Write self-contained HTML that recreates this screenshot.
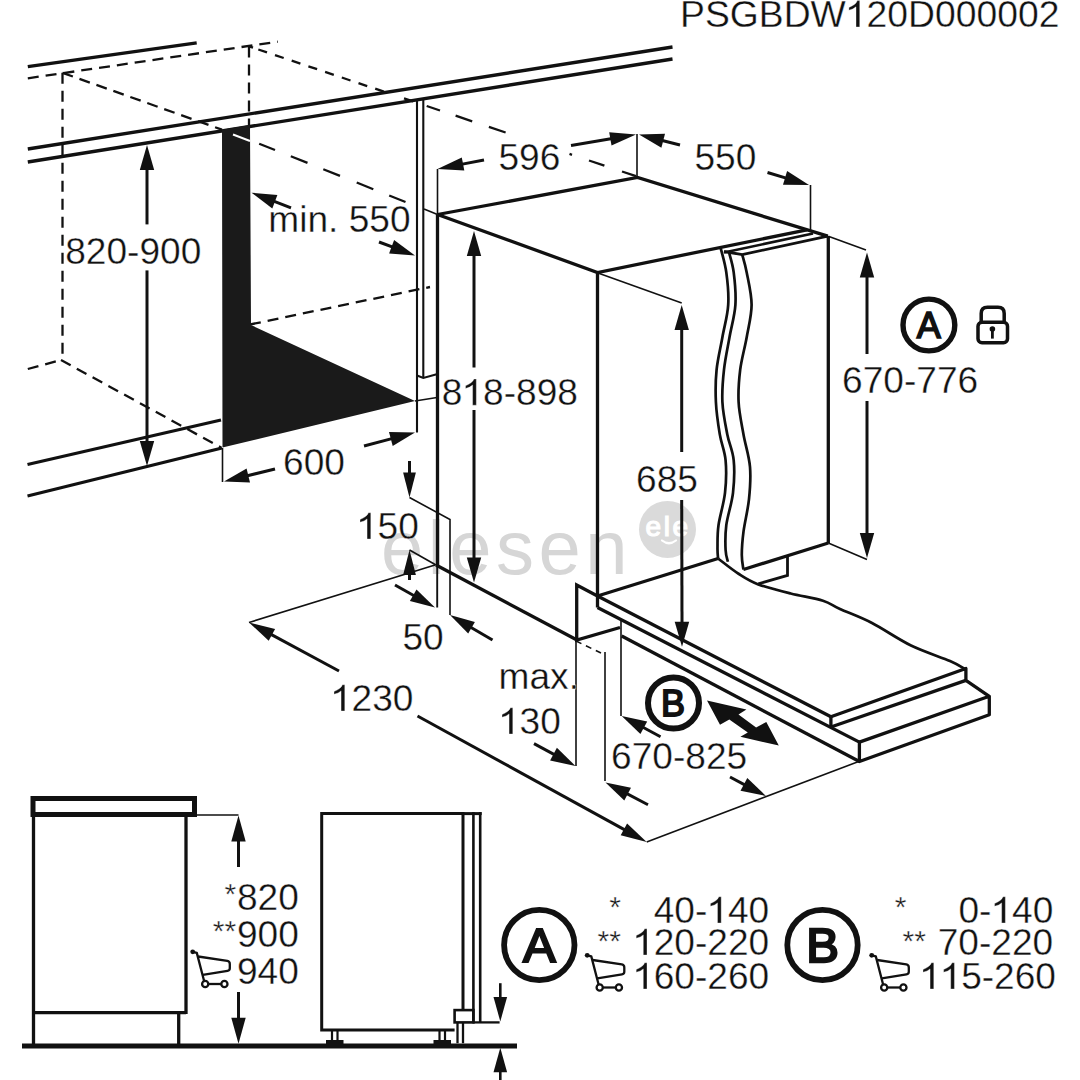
<!DOCTYPE html>
<html><head><meta charset="utf-8"><style>
html,body{margin:0;padding:0;background:#fff;}
svg{display:block;}
text{font-family:"Liberation Sans", sans-serif;}
</style></head><body>
<svg width="1080" height="1080" viewBox="0 0 1080 1080">
<rect width="1080" height="1080" fill="#fff"/>
<g><text x="381" y="574" font-size="76" fill="#d6d6d6" letter-spacing="4.5">elesen</text><circle cx="667.5" cy="529.4" r="28.5" fill="#dadada" stroke="none"/><text x="645.5" y="536" font-size="28" fill="#fff" stroke="#fff" stroke-width="1.2" letter-spacing="2.6">ele</text><path d="M662,540.5 Q669,546 676,540.5" stroke="#fff" stroke-width="2.2" fill="none" stroke-linecap="round"/></g>
<g stroke="#111" stroke-linecap="butt" fill="none">
<path d="M765 0V1450H635Q595 1330 470 1235Q350 1150 170 1075V920Q420 975 560 1110V0Z" transform="translate(845.81,27.00) scale(0.01821,-0.01821)" fill="#111" stroke="#fff" stroke-width="19.2" vector-effect="none"/>
<text x="680.0" y="27.0" font-size="37.3" font-weight="normal" fill="#111"  stroke="#fff" stroke-width="0.35">PSGBDW 20D000002</text>
<line x1="27.8" y1="66.7" x2="196.7" y2="42.8" stroke-width="3.3" />
<line x1="27.8" y1="78.3" x2="277.8" y2="41.7" stroke-width="2.3" stroke-dasharray="11 7"/>
<line x1="62.5" y1="72.8" x2="62.5" y2="360.0" stroke-width="2.3" stroke-dasharray="11 7"/>
<line x1="62.5" y1="72.8" x2="222.0" y2="129.7" stroke-width="2.3" stroke-dasharray="11 7"/>
<line x1="249.0" y1="46.4" x2="249.0" y2="125.6" stroke-width="2.3" stroke-dasharray="11 7"/>
<line x1="249.0" y1="46.4" x2="253.0" y2="47.7" stroke-width="2.3" />
<line x1="258.3" y1="49.5" x2="267.0" y2="52.4" stroke-width="2.3" />
<line x1="275.0" y1="55.1" x2="283.7" y2="58.0" stroke-width="2.3" />
<line x1="291.7" y1="60.7" x2="300.4" y2="63.6" stroke-width="2.3" />
<line x1="308.4" y1="66.3" x2="317.1" y2="69.2" stroke-width="2.3" />
<line x1="325.1" y1="71.9" x2="333.8" y2="74.9" stroke-width="2.3" />
<line x1="341.8" y1="77.5" x2="350.5" y2="80.5" stroke-width="2.3" />
<line x1="358.5" y1="83.1" x2="367.2" y2="86.1" stroke-width="2.3" />
<line x1="375.2" y1="88.7" x2="383.9" y2="91.7" stroke-width="2.3" />
<line x1="404.0" y1="98.4" x2="413.0" y2="101.4" stroke-width="2.3" />
<line x1="426.7" y1="106.0" x2="440.0" y2="110.5" stroke-width="2.3" />
<line x1="455.6" y1="115.7" x2="472.2" y2="121.3" stroke-width="2.3" />
<line x1="488.9" y1="126.9" x2="505.6" y2="132.5" stroke-width="2.3" />
<line x1="569.5" y1="153.9" x2="572.0" y2="154.8" stroke-width="2.3" />
<line x1="589.0" y1="160.5" x2="604.4" y2="165.6" stroke-width="2.3" />
<line x1="622.0" y1="171.5" x2="636.0" y2="176.2" stroke-width="2.3" />
<line x1="259.2" y1="143.7" x2="275.0" y2="150.0" stroke-width="2.3" />
<line x1="290.8" y1="156.3" x2="307.5" y2="162.9" stroke-width="2.3" />
<line x1="323.3" y1="169.2" x2="340.0" y2="175.9" stroke-width="2.3" />
<line x1="356.7" y1="182.5" x2="373.3" y2="189.2" stroke-width="2.3" />
<line x1="389.2" y1="195.5" x2="405.5" y2="202.0" stroke-width="2.3" />
<line x1="27.8" y1="369.0" x2="61.0" y2="360.0" stroke-width="2.3" stroke-dasharray="11 7"/>
<line x1="61.0" y1="360.0" x2="221.0" y2="447.5" stroke-width="2.3" stroke-dasharray="11 7"/>
<line x1="250.0" y1="324.5" x2="430.0" y2="287.0" stroke-width="2.3" stroke-dasharray="11 7"/>
<line x1="27.8" y1="149.0" x2="672.5" y2="47.0" stroke-width="3.3" />
<line x1="27.8" y1="162.0" x2="672.5" y2="59.0" stroke-width="3.3" />
<line x1="27.5" y1="464.5" x2="221.0" y2="420.0" stroke-width="3.3" />
<line x1="27.5" y1="496.0" x2="222.0" y2="448.0" stroke-width="3.3" />
<polygon points="222.0,129.7 250.0,125.0 251.0,325.0 415.0,401.0 222.5,447.5" fill="#1a1a1a" stroke="none"/>
<line x1="233.0" y1="134.5" x2="250.0" y2="141.0" stroke-width="2" stroke="#fff"/>
<line x1="415.0" y1="401.0" x2="437.0" y2="397.5" stroke-width="1.6" />
<line x1="417.0" y1="99.0" x2="417.0" y2="432.5" stroke-width="2.1" />
<line x1="423.3" y1="99.0" x2="423.3" y2="377.5" stroke-width="2.1" />
<polyline points="417.0,375.4 423.3,377.9 436.7,374.2" stroke-width="2.1" fill="none" />
<line x1="147.0" y1="224.4" x2="147.0" y2="168.0" stroke-width="3.0" />
<polygon points="147.0,145.0 154.2,170.0 139.8,170.0" fill="#111" stroke="none"/>
<line x1="147.0" y1="270.4" x2="147.0" y2="443.0" stroke-width="3.0" />
<polygon points="147.0,466.0 139.8,441.0 154.2,441.0" fill="#111" stroke="none"/>
<text x="65.2" y="263.7" font-size="37.1" font-weight="normal" fill="#111"  stroke="#fff" stroke-width="0.35">820-900</text>
<line x1="291.0" y1="207.8" x2="273.0" y2="200.9" stroke-width="3.0" />
<polygon points="251.5,192.7 277.4,194.9 272.3,208.4" fill="#111" stroke="none"/>
<line x1="379.0" y1="242.0" x2="393.5" y2="247.4" stroke-width="3.0" />
<polygon points="415.0,255.5 389.1,253.5 394.1,240.0" fill="#111" stroke="none"/>
<text x="268.3" y="232.0" font-size="37.1" font-weight="normal" fill="#111"  stroke="#fff" stroke-width="0.35">min. 550</text>
<line x1="222.5" y1="448.0" x2="222.5" y2="482.0" stroke-width="1.6" />
<line x1="364.0" y1="446.0" x2="392.8" y2="438.4" stroke-width="3.0" />
<polygon points="415.0,432.5 392.7,445.9 389.0,431.9" fill="#111" stroke="none"/>
<line x1="275.0" y1="469.0" x2="246.3" y2="476.0" stroke-width="3.0" />
<polygon points="224.0,481.5 246.6,468.5 250.0,482.6" fill="#111" stroke="none"/>
<text x="283.1" y="475.0" font-size="37.1" font-weight="normal" fill="#111"  stroke="#fff" stroke-width="0.35">600</text>
<polyline points="437.5,214.5 637.5,177.5 827.8,236.2" stroke-width="3.3" fill="none" />
<polyline points="437.5,214.5 597.5,272.5 807.0,229.8" stroke-width="3.3" fill="none" />
<line x1="424.0" y1="209.0" x2="437.5" y2="214.5" stroke-width="1.6" />
<line x1="437.5" y1="214.5" x2="437.5" y2="566.0" stroke-width="3.3" />
<line x1="437.2" y1="566.0" x2="437.2" y2="607.5" stroke-width="1.9000000000000001" />
<line x1="597.5" y1="272.5" x2="597.5" y2="596.0" stroke-width="3.3" />
<line x1="437.5" y1="169.0" x2="437.5" y2="214.5" stroke-width="1.6" />
<line x1="637.0" y1="134.0" x2="637.0" y2="177.0" stroke-width="1.6" />
<line x1="484.0" y1="160.0" x2="461.1" y2="164.4" stroke-width="3.0" />
<polygon points="437.5,169.0 461.8,157.5 464.3,170.6" fill="#111" stroke="none"/>
<line x1="571.0" y1="145.5" x2="612.3" y2="138.5" stroke-width="3.0" />
<polygon points="636.0,134.5 611.5,145.4 609.2,132.2" fill="#111" stroke="none"/>
<text x="498.5" y="170.0" font-size="37.1" font-weight="normal" fill="#111"  stroke="#fff" stroke-width="0.35">596</text>
<line x1="680.0" y1="145.0" x2="661.3" y2="140.2" stroke-width="3.0" />
<polygon points="639.0,134.5 665.0,133.7 661.4,147.7" fill="#111" stroke="none"/>
<line x1="767.5" y1="172.5" x2="787.0" y2="178.4" stroke-width="3.0" />
<polygon points="809.0,185.0 783.0,184.7 787.1,170.9" fill="#111" stroke="none"/>
<line x1="810.5" y1="185.0" x2="810.5" y2="230.0" stroke-width="1.6" />
<text x="694.5" y="170.0" font-size="37.1" font-weight="normal" fill="#111"  stroke="#fff" stroke-width="0.35">550</text>
<line x1="474.0" y1="367.5" x2="474.0" y2="254.0" stroke-width="3.0" />
<polygon points="474.0,231.0 481.2,256.0 466.8,256.0" fill="#111" stroke="none"/>
<line x1="474.0" y1="410.0" x2="474.0" y2="559.5" stroke-width="3.0" />
<polygon points="474.0,582.5 466.8,557.5 481.2,557.5" fill="#111" stroke="none"/>
<path d="M765 0V1450H635Q595 1330 470 1235Q350 1150 170 1075V920Q420 975 560 1110V0Z" transform="translate(462.46,405.20) scale(0.01812,-0.01812)" fill="#111" stroke="#fff" stroke-width="19.3" vector-effect="none"/>
<text x="441.8" y="405.2" font-size="37.1" font-weight="normal" fill="#111"  stroke="#fff" stroke-width="0.35">8 8-898</text>
<line x1="724.0" y1="252.5" x2="813.0" y2="233.5" stroke-width="2.6" />
<polyline points="724.0,251.5 742.2,254.6 827.8,236.2" stroke-width="2.8" fill="none" />
<line x1="828.3" y1="236.0" x2="828.3" y2="543.0" stroke-width="3.3" />
<line x1="828.3" y1="236.2" x2="866.0" y2="250.0" stroke-width="1.6" />
<line x1="828.3" y1="543.0" x2="867.0" y2="559.5" stroke-width="1.6" />
<path d="M720.5,247.5 C721.5,251.7 725.0,262.8 726.3,272.4 C727.6,281.9 728.9,294.0 728.2,304.8 C727.6,315.6 724.3,326.4 722.4,337.2 C720.5,348.0 717.7,358.8 716.6,369.6 C715.5,380.4 715.4,391.2 715.9,402.0 C716.4,412.8 718.2,424.7 719.8,434.4 C721.4,444.1 724.7,450.6 725.6,460.3 C726.5,470.0 726.2,482.0 725.0,492.8 C723.8,503.6 719.8,516.0 718.5,525.2 C717.2,534.4 717.6,542.5 717.5,548.0 C717.4,553.5 718.0,556.8 718.1,558.5" stroke-width="2.7" fill="none" stroke-linejoin="round"/>
<path d="M729.0,252.3 C729.8,255.7 732.6,263.6 733.7,272.4 C734.8,281.1 736.1,294.0 735.4,304.8 C734.7,315.6 731.4,326.4 729.5,337.2 C727.6,348.0 725.2,358.8 724.0,369.6 C722.8,380.4 721.9,391.2 722.4,402.0 C722.9,412.8 725.4,424.7 727.3,434.4 C729.2,444.1 732.8,450.6 733.7,460.3 C734.7,470.0 734.2,482.0 733.0,492.8 C731.8,503.6 727.5,515.7 726.3,525.2 C725.1,534.7 725.3,543.9 725.6,550.0 C725.9,556.1 727.5,559.8 727.9,561.8" stroke-width="2.7" fill="none" stroke-linejoin="round"/>
<path d="M742.2,254.6 C743.0,257.6 745.1,264.0 746.7,272.4 C748.3,280.8 751.6,294.0 751.6,304.8 C751.6,315.6 748.6,326.4 746.7,337.2 C744.8,348.0 741.6,358.8 740.2,369.6 C738.9,380.4 738.1,391.2 738.6,402.0 C739.1,412.8 741.6,423.6 743.5,434.4 C745.4,445.2 749.1,456.0 750.0,466.8 C750.9,477.6 750.1,488.4 749.0,499.2 C747.9,510.0 744.7,522.3 743.5,531.6 C742.3,540.9 741.8,548.7 741.8,555.0 C741.8,561.3 743.1,567.1 743.4,569.5" stroke-width="2.7" fill="none" stroke-linejoin="round"/>
<line x1="828.3" y1="543.0" x2="743.4" y2="569.5" stroke-width="3.3" />
<polyline points="758.3,583.8 787.5,575.4 787.5,555.7" stroke-width="2.8" fill="none" />
<path d="M718.1,558.5 C721.6,561.1 732.2,569.7 738.9,574.0 C745.6,578.3 749.7,581.1 758.3,584.4 C766.9,587.6 779.9,590.8 790.7,593.5 C801.5,596.2 814.8,598.1 823.0,600.7 C831.2,603.3 831.8,605.3 840.0,609.0 C848.2,612.7 860.2,616.9 872.0,623.0 C883.8,629.1 898.0,639.2 911.0,645.5 C924.0,651.8 941.0,657.1 950.0,661.0 C959.0,664.9 962.5,667.7 965.0,669.0" stroke-width="2.7" fill="none" stroke-linejoin="round"/>
<line x1="867.0" y1="354.0" x2="867.0" y2="275.5" stroke-width="3.0" />
<polygon points="867.0,252.5 874.2,277.5 859.8,277.5" fill="#111" stroke="none"/>
<line x1="867.0" y1="401.0" x2="867.0" y2="535.0" stroke-width="3.0" />
<polygon points="867.0,558.0 859.8,533.0 874.2,533.0" fill="#111" stroke="none"/>
<text x="842.1" y="393.3" font-size="37.1" font-weight="normal" fill="#111"  stroke="#fff" stroke-width="0.35">670-776</text>
<circle cx="928.9" cy="325" r="25.9" stroke-width="5.4" fill="none"/>
<text x="916.8" y="338.0" font-size="36" font-weight="normal" fill="#111"  stroke="#111" stroke-width="1.6" stroke-linejoin="miter">A</text>
<rect x="978" y="322.2" width="29.5" height="20.5" rx="4" stroke-width="3.5" fill="none"/>
<path d="M981.2,322.2 V313.5 Q981.2,307.3 987.5,307.3 H998 Q1004.2,307.3 1004.2,313.5 V322.2" stroke-width="3.5" fill="none"/>
<circle cx="992.4" cy="329" r="2.8" fill="#111" stroke="none"/>
<line x1="992.4" y1="329.0" x2="992.4" y2="338.6" stroke-width="2.8" />
<line x1="598.0" y1="273.0" x2="681.7" y2="303.0" stroke-width="1.6" />
<line x1="681.7" y1="452.0" x2="681.7" y2="328.0" stroke-width="3.0" />
<polygon points="681.7,305.0 688.9,330.0 674.5,330.0" fill="#111" stroke="none"/>
<line x1="681.7" y1="500.0" x2="682.0" y2="623.7" stroke-width="3.0" />
<polygon points="682.0,646.7 674.7,621.7 689.2,621.7" fill="#111" stroke="none"/>
<text x="636.1" y="492.0" font-size="37.1" font-weight="normal" fill="#111"  stroke="#fff" stroke-width="0.35">685</text>
<line x1="597.5" y1="596.0" x2="718.1" y2="558.5" stroke-width="3.3" />
<line x1="409.5" y1="550.0" x2="436.0" y2="565.0" stroke-width="1.6" />
<line x1="436.0" y1="565.0" x2="577.0" y2="640.0" stroke-width="3.3" />
<polyline points="597.5,596.0 576.7,585.0 576.7,640.0 620.0,627.5" stroke-width="3.3" fill="none" />
<line x1="597.5" y1="596.0" x2="830.9" y2="716.7" stroke-width="3.3" />
<line x1="597.5" y1="596.0" x2="597.5" y2="607.5" stroke-width="3.3" />
<line x1="597.5" y1="607.5" x2="859.4" y2="742.1" stroke-width="3.3" />
<polyline points="830.9,716.7 965.9,668.5 965.9,680.4 989.3,696.3 989.3,714.8 859.4,761.5 859.4,742.1 989.3,696.3" stroke-width="3.3" fill="none" stroke-linejoin="round"/>
<line x1="830.9" y1="716.7" x2="830.9" y2="727.0" stroke-width="3.3" />
<line x1="830.9" y1="727.0" x2="965.9" y2="680.4" stroke-width="3.3" />
<line x1="621.0" y1="619.5" x2="621.0" y2="716.0" stroke-width="1.6" />
<line x1="621.7" y1="636.0" x2="859.4" y2="761.5" stroke-width="3.3" />
<line x1="646.7" y1="842.0" x2="860.0" y2="761.0" stroke-width="1.6" />
<line x1="409.5" y1="461.0" x2="409.5" y2="474.5" stroke-width="3.0" />
<polygon points="409.5,497.5 403.1,472.5 415.9,472.5" fill="#111" stroke="none"/>
<polyline points="409.5,497.5 450.0,519.5 450.0,615.0" stroke-width="1.6" fill="none" />
<line x1="409.5" y1="580.0" x2="409.5" y2="573.0" stroke-width="3.0" />
<polygon points="409.5,550.0 415.9,575.0 403.1,575.0" fill="#111" stroke="none"/>
<path d="M765 0V1450H635Q595 1330 470 1235Q350 1150 170 1075V920Q420 975 560 1110V0Z" transform="translate(356.92,539.00) scale(0.01812,-0.01812)" fill="#111" stroke="#fff" stroke-width="19.3" vector-effect="none"/>
<text x="356.9" y="539.0" font-size="37.1" font-weight="normal" fill="#111"  stroke="#fff" stroke-width="0.35"> 50</text>
<line x1="249.0" y1="622.5" x2="435.0" y2="565.0" stroke-width="1.6" />
<line x1="395.0" y1="585.0" x2="415.0" y2="596.2" stroke-width="3.0" />
<polygon points="435.0,607.5 409.9,601.1 416.5,589.4" fill="#111" stroke="none"/>
<line x1="492.5" y1="640.0" x2="469.8" y2="626.7" stroke-width="3.0" />
<polygon points="450.0,615.0 474.9,621.9 468.2,633.4" fill="#111" stroke="none"/>
<text x="402.5" y="650.0" font-size="37.1" font-weight="normal" fill="#111"  stroke="#fff" stroke-width="0.35">50</text>
<line x1="339.0" y1="671.0" x2="270.1" y2="633.9" stroke-width="3.0" />
<polygon points="249.0,622.5 275.1,628.9 268.7,640.7" fill="#111" stroke="none"/>
<line x1="417.5" y1="716.0" x2="625.7" y2="830.4" stroke-width="3.0" />
<polygon points="646.7,842.0 620.7,835.3 627.1,823.6" fill="#111" stroke="none"/>
<path d="M765 0V1450H635Q595 1330 470 1235Q350 1150 170 1075V920Q420 975 560 1110V0Z" transform="translate(330.92,711.00) scale(0.01812,-0.01812)" fill="#111" stroke="#fff" stroke-width="19.3" vector-effect="none"/>
<text x="330.9" y="711.0" font-size="37.1" font-weight="normal" fill="#111"  stroke="#fff" stroke-width="0.35"> 230</text>
<line x1="576.0" y1="641.0" x2="576.0" y2="766.0" stroke-width="1.6" />
<line x1="576.0" y1="641.0" x2="601.0" y2="653.0" stroke-width="1.6" stroke-dasharray="6 5"/>
<line x1="605.0" y1="652.0" x2="605.0" y2="781.0" stroke-width="1.6" />
<line x1="534.0" y1="743.6" x2="555.3" y2="755.1" stroke-width="2.9" />
<polygon points="575.5,766.0 550.1,760.5 556.9,747.8" fill="#111" stroke="none"/>
<line x1="648.0" y1="804.7" x2="625.9" y2="793.1" stroke-width="2.9" />
<polygon points="605.5,782.5 631.0,787.7 624.3,800.5" fill="#111" stroke="none"/>
<text x="498.6" y="689.0" font-size="37.1" font-weight="normal" fill="#111"  stroke="#fff" stroke-width="0.35">max.</text>
<path d="M765 0V1450H635Q595 1330 470 1235Q350 1150 170 1075V920Q420 975 560 1110V0Z" transform="translate(498.92,734.00) scale(0.01812,-0.01812)" fill="#111" stroke="#fff" stroke-width="19.3" vector-effect="none"/>
<text x="498.9" y="734.0" font-size="37.1" font-weight="normal" fill="#111"  stroke="#fff" stroke-width="0.35"> 30</text>
<line x1="660.5" y1="736.7" x2="642.0" y2="726.8" stroke-width="3.0" />
<polygon points="621.7,716.0 647.2,721.4 640.4,734.1" fill="#111" stroke="none"/>
<line x1="730.0" y1="777.0" x2="745.7" y2="785.3" stroke-width="3.0" />
<polygon points="766.0,796.0 740.5,790.7 747.3,778.0" fill="#111" stroke="none"/>
<text x="611.1" y="768.6" font-size="37.1" font-weight="normal" fill="#111"  stroke="#fff" stroke-width="0.35">670-825</text>
<circle cx="673.5" cy="703" r="25.5" stroke-width="6" fill="none"/>
<text x="661.0" y="716.1" font-size="36" font-weight="normal" fill="#111"  stroke="#111" stroke-width="1.8" stroke-linejoin="miter">B</text>
<polygon points="707.0,700.6 746.4,709.4 738.5,714.5 756.1,727.5 766.3,722.0 778.8,745.6 740.4,736.8 747.8,732.6 729.3,719.6 720.0,724.7" fill="#111" stroke="none"/>
<rect x="33" y="798.5" width="161.5" height="16" stroke-width="5" fill="none"/>
<line x1="33.5" y1="815.0" x2="33.5" y2="1046.0" stroke-width="3.3" />
<line x1="186.0" y1="815.0" x2="186.0" y2="1014.0" stroke-width="3.3" />
<line x1="33.5" y1="1012.6" x2="186.0" y2="1012.6" stroke-width="3.3" />
<line x1="178.7" y1="1013.0" x2="178.7" y2="1046.0" stroke-width="3.3" />
<line x1="22.0" y1="1046.0" x2="517.0" y2="1046.0" stroke-width="5" />
<line x1="197.0" y1="815.0" x2="238.5" y2="815.0" stroke-width="1.6" />
<line x1="238.5" y1="867.0" x2="238.5" y2="839.5" stroke-width="3.0" />
<polygon points="238.5,815.5 245.7,841.5 231.3,841.5" fill="#111" stroke="none"/>
<line x1="238.5" y1="992.0" x2="238.5" y2="1019.7" stroke-width="3.0" />
<polygon points="238.5,1043.7 231.3,1017.7 245.7,1017.7" fill="#111" stroke="none"/>
<text x="236.9" y="910.1" font-size="37.1" font-weight="normal" fill="#111"  stroke="#fff" stroke-width="0.35">820</text>
<text x="224.4" y="903.7" font-size="30" font-weight="normal" fill="#111"  stroke="#fff" stroke-width="0.35">*</text>
<text x="236.9" y="946.9" font-size="37.1" font-weight="normal" fill="#111"  stroke="#fff" stroke-width="0.35">900</text>
<text x="212.8" y="941.0" font-size="30" font-weight="normal" fill="#111"  stroke="#fff" stroke-width="0.35">**</text>
<text x="236.9" y="983.6" font-size="37.1" font-weight="normal" fill="#111"  stroke="#fff" stroke-width="0.35">940</text>
<g transform="translate(185.5,941.5)"><circle cx="7.2" cy="10.3" r="2.4" fill="#111" stroke="none"/><path d="M7.2,10.3 L11.3,11.4 L18.6,39.5" stroke-width="2.3" fill="none" stroke-linejoin="round"/><path d="M12.6,15 L41.8,19.4 Q44.3,19.9 44.3,22.4 V26.8 Q44.3,29 42,29.3 L17.3,33.3" stroke-width="2.3" fill="none" stroke-linejoin="round"/><circle cx="19.7" cy="42.5" r="3.1" stroke-width="2.3" fill="none"/><circle cx="38.9" cy="42.5" r="3.1" stroke-width="2.3" fill="none"/><path d="M22.8,42.5 H35.8" stroke-width="2.3"/></g>
<polyline points="463.0,1010.5 463.0,813.6 321.7,813.6 321.7,1029.9 454.6,1029.9" stroke-width="3" fill="none" stroke-linejoin="miter"/>
<line x1="461.5" y1="813.6" x2="481.7" y2="813.6" stroke-width="3" />
<line x1="473.4" y1="812.1" x2="473.4" y2="1022.4" stroke-width="2.6" />
<line x1="480.2" y1="812.1" x2="480.2" y2="1022.4" stroke-width="2.6" />
<line x1="472.4" y1="1022.4" x2="499.6" y2="1022.4" stroke-width="2.3" />
<rect x="454.6" y="1010.1" width="18.8" height="12.3" stroke-width="2.6" fill="none"/>
<line x1="457.5" y1="1022.4" x2="457.5" y2="1043.2" stroke-width="2.3" />
<line x1="463.0" y1="1022.4" x2="463.0" y2="1043.2" stroke-width="2.3" />
<line x1="332.0" y1="1030.0" x2="332.0" y2="1041.0" stroke-width="2.2" />
<line x1="337.5" y1="1030.0" x2="337.5" y2="1041.0" stroke-width="2.2" />
<rect x="326" y="1040" width="17.5" height="4" fill="#111" stroke="none"/>
<line x1="439.5" y1="1030.0" x2="439.5" y2="1041.0" stroke-width="2.2" />
<line x1="445.0" y1="1030.0" x2="445.0" y2="1041.0" stroke-width="2.2" />
<rect x="433.5" y="1040" width="17.5" height="4" fill="#111" stroke="none"/>
<line x1="500.3" y1="983.2" x2="500.3" y2="998.9" stroke-width="2.6" />
<polygon points="500.3,1021.5 493.5,996.9 507.1,996.9" fill="#111" stroke="none"/>
<line x1="500.3" y1="1080.0" x2="500.3" y2="1070.3" stroke-width="2.6" />
<polygon points="500.3,1047.7 507.1,1072.3 493.5,1072.3" fill="#111" stroke="none"/>
<circle cx="539.3" cy="945" r="35.2" stroke-width="5.8" fill="none"/>
<text x="523.1" y="961.9" font-size="49" font-weight="normal" fill="#111"  stroke="#111" stroke-width="2.2" stroke-linejoin="miter">A</text>
<text x="609.2" y="916.7" font-size="30" font-weight="normal" fill="#111"  stroke="#fff" stroke-width="0.35">*</text>
<path d="M765 0V1450H635Q595 1330 470 1235Q350 1150 170 1075V920Q420 975 560 1110V0Z" transform="translate(707.35,923.00) scale(0.01812,-0.01812)" fill="#111" stroke="#fff" stroke-width="19.3" vector-effect="none"/>
<text x="653.7" y="923.0" font-size="37.1" font-weight="normal" fill="#111"  stroke="#fff" stroke-width="0.35">40- 40</text>
<text x="597.5" y="950.7" font-size="30" font-weight="normal" fill="#111"  stroke="#fff" stroke-width="0.35">**</text>
<path d="M765 0V1450H635Q595 1330 470 1235Q350 1150 170 1075V920Q420 975 560 1110V0Z" transform="translate(633.14,955.00) scale(0.01812,-0.01812)" fill="#111" stroke="#fff" stroke-width="19.3" vector-effect="none"/>
<text x="633.1" y="955.0" font-size="37.1" font-weight="normal" fill="#111"  stroke="#fff" stroke-width="0.35"> 20-220</text>
<g transform="translate(580,945)"><circle cx="7.2" cy="10.3" r="2.4" fill="#111" stroke="none"/><path d="M7.2,10.3 L11.3,11.4 L18.6,39.5" stroke-width="2.3" fill="none" stroke-linejoin="round"/><path d="M12.6,15 L41.8,19.4 Q44.3,19.9 44.3,22.4 V26.8 Q44.3,29 42,29.3 L17.3,33.3" stroke-width="2.3" fill="none" stroke-linejoin="round"/><circle cx="19.7" cy="42.5" r="3.1" stroke-width="2.3" fill="none"/><circle cx="38.9" cy="42.5" r="3.1" stroke-width="2.3" fill="none"/><path d="M22.8,42.5 H35.8" stroke-width="2.3"/></g>
<path d="M765 0V1450H635Q595 1330 470 1235Q350 1150 170 1075V920Q420 975 560 1110V0Z" transform="translate(633.14,989.00) scale(0.01812,-0.01812)" fill="#111" stroke="#fff" stroke-width="19.3" vector-effect="none"/>
<text x="633.1" y="989.0" font-size="37.1" font-weight="normal" fill="#111"  stroke="#fff" stroke-width="0.35"> 60-260</text>
<circle cx="822.5" cy="945" r="35.2" stroke-width="5.8" fill="none"/>
<text x="806.3" y="961.8" font-size="49" font-weight="normal" fill="#111"  stroke="#111" stroke-width="2.4" stroke-linejoin="miter">B</text>
<text x="894.8" y="916.7" font-size="30" font-weight="normal" fill="#111"  stroke="#fff" stroke-width="0.35">*</text>
<path d="M765 0V1450H635Q595 1330 470 1235Q350 1150 170 1075V920Q420 975 560 1110V0Z" transform="translate(991.50,923.00) scale(0.01812,-0.01812)" fill="#111" stroke="#fff" stroke-width="19.3" vector-effect="none"/>
<text x="958.5" y="923.0" font-size="37.1" font-weight="normal" fill="#111"  stroke="#fff" stroke-width="0.35">0- 40</text>
<text x="902.5" y="950.7" font-size="30" font-weight="normal" fill="#111"  stroke="#fff" stroke-width="0.35">**</text>
<text x="937.7" y="955.0" font-size="37.1" font-weight="normal" fill="#111"  stroke="#fff" stroke-width="0.35">70-220</text>
<g transform="translate(864.5,945)"><circle cx="7.2" cy="10.3" r="2.4" fill="#111" stroke="none"/><path d="M7.2,10.3 L11.3,11.4 L18.6,39.5" stroke-width="2.3" fill="none" stroke-linejoin="round"/><path d="M12.6,15 L41.8,19.4 Q44.3,19.9 44.3,22.4 V26.8 Q44.3,29 42,29.3 L17.3,33.3" stroke-width="2.3" fill="none" stroke-linejoin="round"/><circle cx="19.7" cy="42.5" r="3.1" stroke-width="2.3" fill="none"/><circle cx="38.9" cy="42.5" r="3.1" stroke-width="2.3" fill="none"/><path d="M22.8,42.5 H35.8" stroke-width="2.3"/></g>
<path d="M765 0V1450H635Q595 1330 470 1235Q350 1150 170 1075V920Q420 975 560 1110V0Z" transform="translate(919.92,989.00) scale(0.01812,-0.01812)" fill="#111" stroke="#fff" stroke-width="19.3" vector-effect="none"/>
<path d="M765 0V1450H635Q595 1330 470 1235Q350 1150 170 1075V920Q420 975 560 1110V0Z" transform="translate(940.56,989.00) scale(0.01812,-0.01812)" fill="#111" stroke="#fff" stroke-width="19.3" vector-effect="none"/>
<text x="919.9" y="989.0" font-size="37.1" font-weight="normal" fill="#111"  stroke="#fff" stroke-width="0.35">  5-260</text>
</g>
</svg>
</body></html>
